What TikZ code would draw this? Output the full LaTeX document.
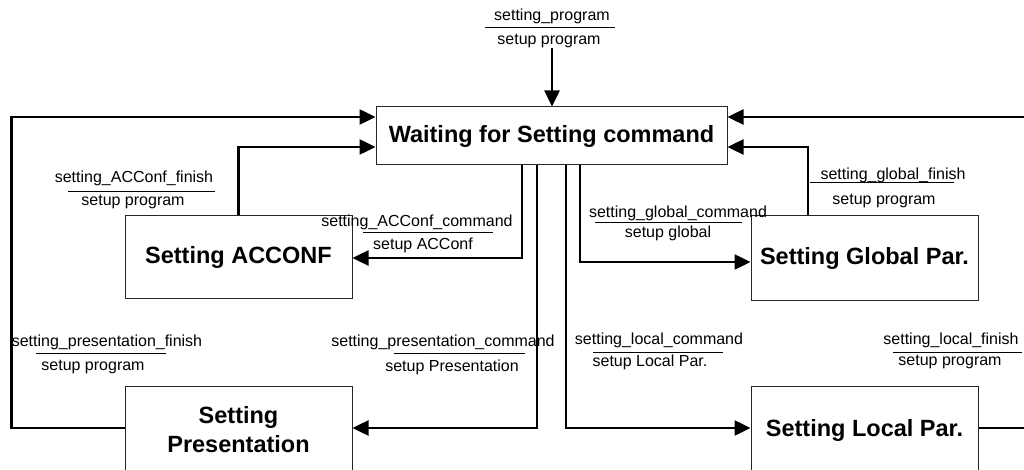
\documentclass[tikz,border=0pt]{standalone}
\usepackage{fontspec}
\setmainfont{Liberation Sans}
\usetikzlibrary{arrows.meta}

\tikzset{
  stbox/.style={draw=black!85, line width=1pt, minimum width=227pt, inner sep=0pt,
    align=center, font=\fontsize{23.5}{29}\selectfont\bfseries},
  flow/.style={line width=2.5pt, -{Triangle[length=16pt,width=15pt]}},
  lbl/.style={inner sep=0pt, font=\fontsize{16}{18}\selectfont},
  ruleline/.style={line width=1pt}
}

\begin{document}
\begin{tikzpicture}[x=1pt,y=-1pt]
      \useasboundingbox (0,0) rectangle (1024,470);

      % States
      \node[stbox, minimum width=351pt, minimum height=58pt] (wait) at (551.5,136) {Waiting for Setting command};
      \node[stbox, minimum height=82pt] (acconf) at (238.5,257) {Setting ACCONF};
      \node[stbox, minimum height=84pt] (global) at (864.5,258) {Setting Global Par.};
      \node[stbox, minimum height=88pt] (pres) at (238.5,430) {Setting\\Presentation};
      \node[stbox, minimum height=88pt] (local) at (864.5,430) {Setting Local Par.};

      % Entry
      \coordinate (start) at (552,48);
      \draw[flow] (start) -- (start |- wait.north);

      % Commands out of the waiting state
      \draw[flow] ([xshift=-29.5pt]wait.south) |- ([yshift=-1pt]acconf.east);
      \draw[flow] ([xshift=-14.5pt]wait.south) |- ([yshift=2pt]pres.east);
      \draw[flow] ([xshift=14.5pt]wait.south) |- ([yshift=2pt]local.west);
      \draw[flow] ([xshift=28.5pt]wait.south) |- ([yshift=-4pt]global.west);

      % Finish back to the waiting state
      \draw[flow] (acconf.north) |- ([yshift=-11pt]wait.west);
      \draw[flow] ([xshift=-56.5pt]global.north) |- ([yshift=-11pt]wait.east);
      \draw[flow] ([yshift=2pt]pres.west) -- ++(-113pt,0) |- ([yshift=19pt]wait.west);
      \draw[flow] ([yshift=2pt]local.east) -- ++(60pt,0) |- ([yshift=19pt]wait.east);

      % Transition labels
      \node[lbl] (progev) at (552,16) {setting\_program};
      \draw[ruleline] (485,28) -- (615,28);
      \node[lbl] (progact) at (549,41) {setup program};

      \node[lbl] (acfinev) at (134,178) {setting\_ACConf\_finish};
      \draw[ruleline] (68,192) -- (215,192);
      \node[lbl] (acfinact) at (133,202) {setup program};

      \node[lbl] (accmdev) at (417,222) {setting\_ACConf\_command};
      \draw[ruleline] (363,233) -- (493,233);
      \node[lbl] (accmdact) at (423,245) {setup ACConf};

      \node[lbl] (glcmdev) at (678,213) {setting\_global\_command};
      \draw[ruleline] (595,223) -- (742,223);
      \node[lbl] (glcmdact) at (668,233) {setup global};

      \node[lbl] (glfinev) at (893,175) {setting\_global\_finish};
      \draw[ruleline] (810,183) -- (954,183);
      \node[lbl] (glfinact) at (884,201) {setup program};

      \node[lbl] (prfinev) at (107,342) {setting\_presentation\_finish};
      \draw[ruleline] (36,353) -- (166,353);
      \node[lbl] (prfinact) at (93,367) {setup program};

      \node[lbl] (prcmdev) at (443,342) {setting\_presentation\_command};
      \draw[ruleline] (394,353) -- (525,353);
      \node[lbl] (prcmdact) at (452,367) {setup Presentation};

      \node[lbl] (lccmdev) at (659,340) {setting\_local\_command};
      \draw[ruleline] (593,352) -- (723,352);
      \node[lbl] (lccmdact) at (650,362) {setup Local Par.};

      \node[lbl] (lcfinev) at (951,340) {setting\_local\_finish};
      \draw[ruleline] (893,352) -- (1022,352);
      \node[lbl] (lcfinact) at (950,362) {setup program};
    \end{tikzpicture}
\end{document}
